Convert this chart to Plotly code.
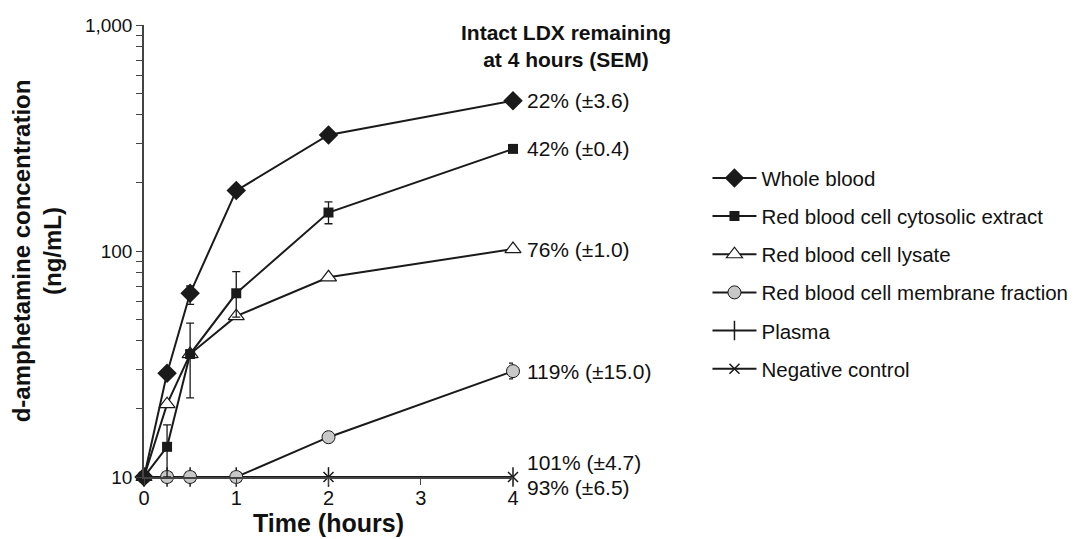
import math
import plotly.graph_objects as go

FONT = "Liberation Sans, Arial, sans-serif"

time = [0, 0.25, 0.5, 1, 2, 4]

whole_blood = [10, 28.8, 65, 185, 326, 462]
wb_plus = [0, 0, 5, 0, 0, 0]
wb_minus = [0, 0, 7, 0, 0, 0]

cytosolic = [10, 13.6, 35, 65, 148, 283]
cy_plus = [0, 3.4, 13, 16, 17, 0]
cy_minus = [0, 3.6, 12.6, 14, 16, 0]

lysate = [10, 21, 35, 51.5, 76.5, 102]

membrane = [10, 10, 10, 10, 15, 29.4]
mb_plus = [0, 0, 0, 0, 0, 2.5]
mb_minus = [0, 0, 0, 0, 0, 2.2]

plasma = [10, 10, 10, 10, 10, 10]
negative = [10, 10, 10, 10, 10, 10]

series_names = ["Whole blood", "Red blood cell cytosolic extract", "Red blood cell lysate",
                "Red blood cell membrane fraction", "Plasma", "Negative control"]

ldx_labels = ["22% (±3.6)", "42% (±0.4)", "76% (±1.0)", "119% (±15.0)", "101% (±4.7)", "93% (±6.5)"]
ldx_label_y = [462, 283, 102, 29.4, 10, 10]
ldx_label_shift = [0, 0, 0, 0, 15, -10]

y_tickvals = [10, 100, 1000]
y_ticktext = ["10", "100", "1,000"]
y_minor = [20, 30, 40, 50, 60, 70, 80, 90, 200, 300, 400, 500, 600, 700, 800, 900]
x_tickvals = [0, 1, 2, 3, 4]

LC = "#1a1a1a"
AX = "#444444"

def err(plus, minus):
    return dict(type="data", symmetric=False, array=plus, arrayminus=minus,
                color=LC, thickness=1.3, width=4)

fig = go.Figure()

fig.add_trace(go.Scatter(x=time, y=plasma, name=series_names[4], mode="lines+markers",
                         line=dict(color=LC, width=2),
                         marker=dict(symbol="line-ns", size=14, line=dict(color=LC, width=1.5)),
                         legendrank=5, legendgroup="e"))
fig.add_trace(go.Scatter(x=time, y=negative, name=series_names[5], mode="lines+markers",
                         line=dict(color=LC, width=2),
                         marker=dict(symbol="x-thin", size=10, line=dict(color=LC, width=1.5)),
                         legendrank=6, legendgroup="f"))
fig.add_trace(go.Scatter(x=time, y=membrane, name=series_names[3], mode="lines+markers",
                         line=dict(color=LC, width=2),
                         marker=dict(symbol="circle", size=13, color="#c8c8c8", line=dict(color=LC, width=1)),
                         error_y=err(mb_plus, mb_minus), legendrank=4, legendgroup="d"))
fig.add_trace(go.Scatter(x=time, y=lysate, name=series_names[2], mode="lines+markers",
                         line=dict(color=LC, width=2),
                         marker=dict(symbol="triangle-up", size=14, color="white", line=dict(color=LC, width=1.2)),
                         legendrank=3, legendgroup="c"))
fig.add_trace(go.Scatter(x=time, y=cytosolic, name=series_names[1], mode="lines+markers",
                         line=dict(color=LC, width=2),
                         marker=dict(symbol="square", size=10, color=LC),
                         error_y=err(cy_plus, cy_minus), legendrank=2, legendgroup="b"))
fig.add_trace(go.Scatter(x=time, y=whole_blood, name=series_names[0], mode="lines+markers",
                         line=dict(color=LC, width=2),
                         marker=dict(symbol="diamond", size=15, color=LC),
                         error_y=err(wb_plus, wb_minus), legendrank=1, legendgroup="a"))

for t in fig.data:
    t.cliponaxis = False

for lab, yv, sh in zip(ldx_labels, ldx_label_y, ldx_label_shift):
    fig.add_annotation(x=4, y=math.log10(yv), yref="y", xref="x", text=lab, showarrow=False,
                       xanchor="left", yanchor="middle", xshift=12, yshift=sh,
                       font=dict(family=FONT, size=21, color="#111"))

fig.add_annotation(x=1.1436, y=0.9546, xref="paper", yref="paper",
                   text="<b>Intact LDX remaining<br>at 4 hours (SEM)</b>", showarrow=False,
                   xanchor="center", yanchor="middle", align="center",
                   font=dict(family=FONT, size=21, color="#111"))

fig.update_layout(
    width=1075, height=531,
    margin=dict(l=136, r=570, t=17, b=62, autoexpand=False),
    paper_bgcolor="white", plot_bgcolor="white",
    font=dict(family=FONT, size=19, color="#111"),
    showlegend=True,
    legend=dict(x=1.527, y=0.45, xanchor="left", yanchor="middle",
                font=dict(family=FONT, size=20.5, color="#111"),
                tracegroupgap=8.5, traceorder="grouped", itemwidth=44,
                bgcolor="rgba(0,0,0,0)"),
    xaxis=dict(range=[0, 4], tickvals=x_tickvals, ticks="outside", ticklen=6, tickwidth=1.2,
               tickcolor=AX, showline=True, linecolor=AX, linewidth=1.5,
               showgrid=False, zeroline=False, automargin=False, ticklabelstandoff=-4,
               tickfont=dict(family=FONT, size=20),
               title=dict(text="<b>Time (hours)</b>", font=dict(family=FONT, size=25), standoff=6)),
    yaxis=dict(type="log", range=[1, 3], tickvals=y_tickvals, ticktext=y_ticktext,
               ticks="outside", ticklen=6, tickwidth=1.2, tickcolor=AX,
               showline=True, linecolor=AX, linewidth=1.5, showgrid=False, zeroline=False,
               automargin=False,
               tickfont=dict(family=FONT, size=19),
               minor=dict(tickvals=y_minor, ticks="outside", ticklen=6, tickwidth=1.2, tickcolor=AX,
                          showgrid=False),
               title=dict(text="<b>d-amphetamine concentration<br>(ng/mL)</b>",
                          font=dict(family=FONT, size=24), standoff=20)),
)

fig.write_html("out.html")
